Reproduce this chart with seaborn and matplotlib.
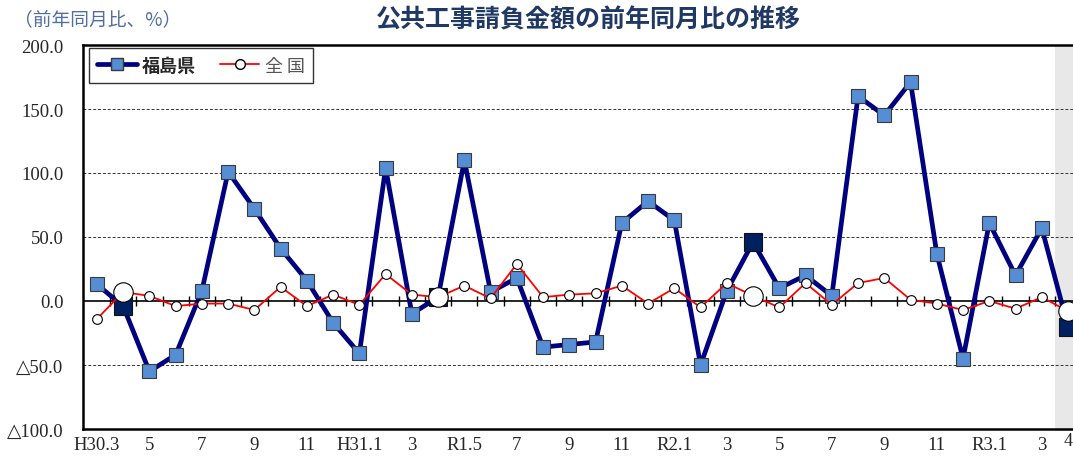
import numpy as np
import pandas as pd
import matplotlib
matplotlib.use("Agg")
import matplotlib.pyplot as plt
import seaborn as sns
from matplotlib.lines import Line2D

sns.set_style("white")
plt.rcParams["font.family"] = ["Liberation Serif", "DejaVu Serif", "Noto Sans CJK JP"]

# month labels (H30.3 .. R3.4)
period_labels = ["H30.3", "4", "5", "6", "7", "8", "9", "10", "11", "12",
                 "H31.1", "2", "3", "4", "R1.5", "6", "7", "8", "9", "10",
                 "11", "12", "R2.1", "2", "3", "4", "5", "6", "7", "8",
                 "9", "10", "11", "12", "R3.1", "2", "3", "4"]
month_num = [3, 4, 5, 6, 7, 8, 9, 10, 11, 12, 1, 2, 3, 4, 5, 6, 7, 8, 9, 10,
             11, 12, 1, 2, 3, 4, 5, 6, 7, 8, 9, 10, 11, 12, 1, 2, 3, 4]

fukushima = [13, -4, -55, -42, 8, 101, 72, 41, 16, -17, -41, 104, -10, 3,
             110, 7, 18, -36, -34, -32, 61, 78, 63, -50, 8, 46, 10, 20, 4,
             160, 145, 171, 37, -45, 61, 20, 57, -20]
zenkoku = [-14, 7, 4, -4, -2, -2, -7, 11, -4, 5, -3, 21, 5, 3, 12, 2, 29,
           3, 5, 6, 12, -2, 10, -5, 14, 4, -5, 14, -3, 14, 18, 1, -2, -7,
           0, -6, 3, -8]

df = pd.DataFrame({"idx": np.arange(len(fukushima)),
                   "fukushima": fukushima,
                   "zenkoku": zenkoku,
                   "month": month_num})
april = df[df["month"] == 4]

fig = plt.figure(figsize=(10.73, 4.6), dpi=100)
ax = fig.add_axes([83 / 1073, 1 - 430 / 460, 1 - 83 / 1073, 384 / 460])

# shaded latest month
ax.axvspan(36.5, 38, color="#E8E8E8", zorder=0, lw=0)

for yv in [-50, 50, 100, 150]:
    ax.axhline(yv, color="#333333", lw=0.7, ls=(0, (3, 2)), zorder=1)
ax.axhline(0, color="black", lw=1.2, zorder=2)
ax.vlines(np.arange(len(fukushima)) + 0.5, -4, 4, color="black", lw=1.0, zorder=2)

sns.lineplot(data=df, x="idx", y="fukushima", ax=ax, color="#000080", lw=3.4,
             marker="s", markersize=10, markerfacecolor="#558ED5",
             markeredgecolor="#3A3A3A", markeredgewidth=0.8, zorder=3)
ax.plot(april["idx"], april["fukushima"], "s", ms=13, mfc="#002060",
        mec="#111111", mew=0.8, zorder=4)

sns.lineplot(data=df, x="idx", y="zenkoku", ax=ax, color="#FF0000", lw=1.3,
             marker="o", markersize=7, markerfacecolor="white",
             markeredgecolor="black", markeredgewidth=0.8, zorder=5)
ax.plot(april["idx"], april["zenkoku"], "o", ms=14, mfc="white",
        mec="black", mew=0.8, zorder=6)

ax.set_xlim(-0.53, 37.19)
ax.set_ylim(-100, 200)
ax.set_yticks([-100, -50, 0, 50, 100, 150, 200])
ax.set_yticklabels(["△100.0", "△50.0", "0.0", "50.0", "100.0", "150.0", "200.0"],
                   fontsize=13.5)
tick_pos = list(range(0, 37, 2))
ax.set_xticks(tick_pos)
ax.set_xticklabels([period_labels[i] for i in tick_pos], fontsize=13.5)
ax.tick_params(axis="both", length=0, pad=5)
ax.tick_params(axis="y", pad=14)
ax.text(37, -102, "4", ha="center", va="top", fontsize=13,
        transform=ax.transData, clip_on=False)
ax.set_xlabel("")
ax.set_ylabel("")

for s in ["left", "bottom", "top"]:
    ax.spines[s].set_visible(True)
    ax.spines[s].set_color("black")
ax.spines["left"].set_linewidth(1.8)
ax.spines["bottom"].set_linewidth(1.8)
ax.spines["top"].set_linewidth(1.8)
ax.spines["right"].set_visible(False)

handles = [Line2D([], [], color="#000080", lw=3.4, marker="s", ms=8,
                  mfc="#558ED5", mec="#3A3A3A"),
           Line2D([], [], color="#FF0000", lw=1.3, marker="o", ms=7,
                  mfc="white", mec="black")]
leg = ax.legend(handles, ["福島県", "全 国"], loc="upper left", ncol=2,
                bbox_to_anchor=(0.006, 0.993), borderaxespad=0, frameon=True,
                fancybox=False, edgecolor="black", handlelength=2.2,
                columnspacing=1.3, borderpad=0.45, handletextpad=0.3,
                prop={"family": ["Noto Sans CJK JP"], "size": 13})
leg.get_frame().set_linewidth(1.0)
leg.texts[0].set_fontweight("bold")
leg.texts[1].set_color("#555555")

fig.text(588 / 1073, 1 - 20 / 460, "公共工事請負金額の前年同月比の推移",
         ha="center", va="center", fontsize=18, fontweight="bold",
         color="#1F3864", family=["Noto Sans CJK JP"])
fig.text(14 / 1073, 1 - 20 / 460, "（前年同月比、%）", ha="left", va="center",
         fontsize=13.5, color="#4F6F9F", family=["Noto Sans CJK JP"])

fig.savefig("out.png", dpi=100)
